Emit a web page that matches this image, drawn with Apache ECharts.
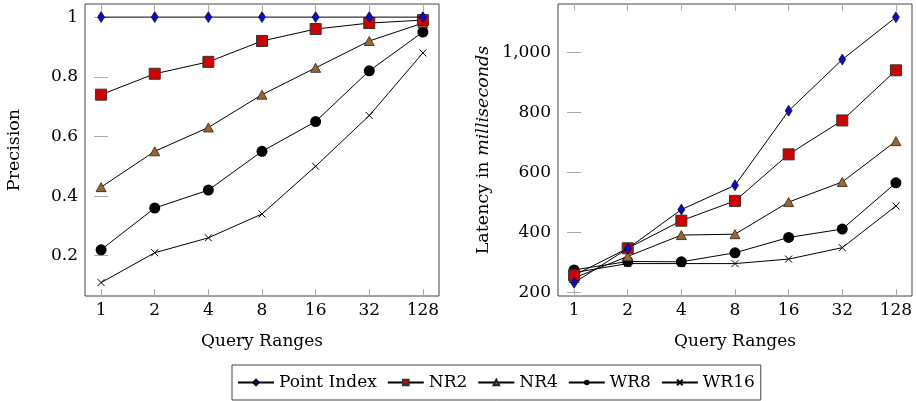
<!DOCTYPE html>
<html><head><meta charset="utf-8">
<script src="https://cdn.jsdelivr.net/npm/echarts@6/dist/echarts.min.js"></script>
<style>html,body{margin:0;padding:0;background:#fff}#c{width:917px;height:401px}</style>
</head><body><div id="c"></div>
<script>
const categories = ['1','2','4','8','16','32','128'];
const seriesNames = ['Point Index','NR2','NR4','WR8','WR16'];
// Precision (left)
const precPointIndex = [1,1,1,1,1,1,1];
const precNR2 = [0.74,0.81,0.85,0.92,0.96,0.98,0.99];
const precNR4 = [0.43,0.55,0.63,0.74,0.83,0.92,0.98];
const precWR8 = [0.22,0.36,0.42,0.55,0.65,0.82,0.95];
const precWR16 = [0.11,0.21,0.26,0.34,0.50,0.67,0.88];
// Latency (right)
const latPointIndex = [232,346,476,557,805,976,1117];
const latNR2 = [257,347,439,505,660,773,940];
const latNR4 = [248,320,391,394,501,568,704];
const latWR8 = [275,303,302,332,383,411,565];
const latWR16 = [266,296,296,296,311,349,488];
const precTicks = [0.2,0.4,0.6,0.8,1];
const latTicks = [200,400,600,800,1000];

const FONT = 'DejaVu Serif';
const idx = categories.map((_, i) => i);
const styles = [
  {symbol:'diamond', symbolSize:[7,11], itemStyle:{color:'#0a0acc', borderColor:'#000', borderWidth:0.6}},
  {symbol:'rect', symbolSize:11, itemStyle:{color:'#d00000', borderColor:'#333', borderWidth:1}},
  {symbol:'triangle', symbolSize:[10,9], itemStyle:{color:'#a0652d', borderColor:'#222', borderWidth:0.8}},
  {symbol:'circle', symbolSize:11, itemStyle:{color:'#000', borderColor:'#000', borderWidth:0}},
  {symbol:'path://M0,0L10,10M10,0L0,10', symbolSize:7, itemStyle:{color:'none', borderColor:'#000', borderWidth:1}}
];
const precData = [precPointIndex, precNR2, precNR4, precWR8, precWR16];
const latData = [latPointIndex, latNR2, latNR4, latWR8, latWR16];

function xAx(grid, pos, labels){
  return {type:'value', gridIndex:grid, position:pos, min:-0.3, max:6.3,
    axisLine:{show:false}, splitLine:{show:false},
    axisTick:{show:true, inside:true, length:7, lineStyle:{color:'#aaa'}, customValues:idx},
    axisLabel:{show:labels, customValues:idx, margin:6, color:'#000', fontFamily:FONT, fontSize:17,
      formatter:v=>categories[Math.round(v)]},
    name: labels?'Query Ranges':'', nameLocation:'middle', nameGap:37,
    nameTextStyle:{color:'#000', fontFamily:FONT, fontSize:17}};
}
function yAx(grid, pos, labels, min, max, ticks, fmt, name, gap){
  return {type:'value', gridIndex:grid, position:pos, min:min, max:max,
    axisLine:{show:false}, splitLine:{show:false},
    axisTick:{show:true, inside:true, length:7, lineStyle:{color:'#aaa'}, customValues:ticks},
    axisLabel:{show:labels, customValues:ticks, margin:7, color:'#000', fontFamily:FONT, fontSize:17, formatter:fmt},
    name: labels?name:'', nameLocation:'middle', nameGap:gap,
    nameTextStyle:{color:'#000', fontFamily:FONT, fontSize:17.5,
      rich:{i:{fontStyle:'italic', fontFamily:FONT, fontSize:17.5, color:'#000'}}}};
}
const precFmt = v => v===1 ? '1' : v.toFixed(1);
const latFmt = v => v>=1000 ? Math.floor(v/1000)+','+String(v%1000).padStart(3,'0') : String(v);

const series = [];
seriesNames.forEach((n,k)=>{
  series.push(Object.assign({name:n, type:'line', xAxisIndex:0, yAxisIndex:0,
    data: precData[k].map((v,i)=>[i,v]), lineStyle:{color:'#000', width:1}, z:10-k,
    showAllSymbol:true, animation:false}, styles[k]));
  series.push(Object.assign({name:n, type:'line', xAxisIndex:2, yAxisIndex:2,
    data: latData[k].map((v,i)=>[i,v]), lineStyle:{color:'#000', width:1}, z:10-k,
    showAllSymbol:true, animation:false}, styles[k]));
});

const chart = echarts.init(document.getElementById('c'), null, {renderer:'canvas'});
chart.setOption({
  animation:false,
  grid:[
    {left:85, width:354, top:4, bottom:105, show:true, borderColor:'#444', borderWidth:1, backgroundColor:'transparent'},
    {left:558, right:5, top:4, bottom:105, show:true, borderColor:'#444', borderWidth:1, backgroundColor:'transparent'}
  ],
  xAxis:[xAx(0,'bottom',true), xAx(0,'top',false), xAx(1,'bottom',true), xAx(1,'top',false)],
  yAxis:[
    yAx(0,'left',true,0.065,1.044,precTicks,precFmt,'Precision',62),
    yAx(0,'right',false,0.065,1.044,precTicks,precFmt,'',0),
    yAx(1,'left',true,188,1161,latTicks,latFmt,'Latency in {i|milliseconds}',66),
    yAx(1,'right',false,188,1161,latTicks,latFmt,'',0)
  ],
  legend:{data:seriesNames, left:232, top:365, orient:'horizontal',
    itemWidth:36, itemHeight:7, itemGap:10, padding:[9,6,9,5],
    borderColor:'#444', borderWidth:1, borderRadius:0,
    textStyle:{color:'#000', fontFamily:FONT, fontSize:17}},
  series:series
});
</script></body></html>
